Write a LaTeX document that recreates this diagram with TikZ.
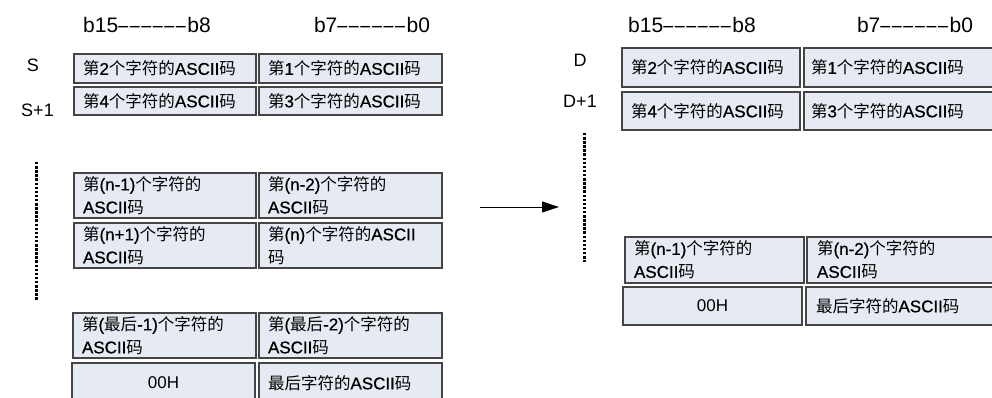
\documentclass[tikz,border=0pt]{standalone}
\usepackage{fontspec}
\usepackage{graphicx}
\setmainfont{Liberation Sans}
\newfontfamily\cjk{Noto Sans CJK SC}
\newfontfamily\semib{Liberation Sans}[FakeBold=0.7]
\usetikzlibrary{arrows.meta}
\newcommand\zh[1]{{\mdseries\cjk\fontsize{16.5}{23}\selectfont #1}}
\newcommand\hd{\scalebox{0.85}[1]{–}\kern1.6pt}
\definecolor{cellfill}{HTML}{E6EAF2}
\definecolor{celldraw}{HTML}{454545}
\tikzset{
  cell/.style={draw=celldraw, fill=cellfill, line width=1.1pt, inner xsep=9pt, inner ysep=0pt,
    outer sep=0pt, anchor=north west, align=left,
    font=\semib\fontsize{17}{23}\selectfont},
  plaincell/.style={cell, align=center, font=\fontsize{17}{23}\selectfont},
  hdr/.style={anchor=base, font=\fontsize{21}{21}\selectfont, inner sep=0pt},
  lbl/.style={anchor=base, font=\fontsize{18}{18}\selectfont, inner sep=0pt},
  dotline/.style={line width=3pt, dash pattern=on 2.5pt off 1.6pt},
}
\begin{document}
\begin{tikzpicture}[x=1pt,y=-1pt]
\useasboundingbox (0,0) rectangle (992,398);
\clip (0,0) rectangle (992,398);
% headers
\node[hdr] (h1) at (147,33) {b15\hd\hd\hd\hd\hd\hd b8};
\node[hdr] (h2) at (372,33) {b7\hd\hd\hd\hd\hd\hd b0};
\node[hdr] (h3) at (692,33) {b15\hd\hd\hd\hd\hd\hd b8};
\node[hdr] (h4) at (915,33) {b7\hd\hd\hd\hd\hd\hd b0};
% labels
\node[lbl] (ls) at (33,72) {S};
\node[lbl] (ls1) at (37.5,117) {S+1};
\node[lbl] (ld) at (580,67) {D};
\node[lbl] (ld1) at (580,108) {D+1};
% left cells
\node[cell, text width=164pt, minimum height=29pt] (s0h) at (74,54) {\zh{第}2\zh{个字符的}ASCII\zh{码}};
\node[cell, text width=165pt, minimum height=29pt] (s0l) at (259,54) {\zh{第}1\zh{个字符的}ASCII\zh{码}};
\node[cell, text width=164pt, minimum height=28pt] (s1h) at (74,87) {\zh{第}4\zh{个字符的}ASCII\zh{码}};
\node[cell, text width=165pt, minimum height=28pt] (s1l) at (259,87) {\zh{第}3\zh{个字符的}ASCII\zh{码}};
\node[cell, text width=164pt, minimum height=45pt] (snah) at (74,173) {\zh{第}(n-1)\zh{个字符的}\\ASCII\zh{码}};
\node[cell, text width=165pt, minimum height=45pt] (snal) at (259,173) {\zh{第}(n-2)\zh{个字符的}\\ASCII\zh{码}};
\node[cell, text width=164pt, minimum height=45pt] (snbh) at (74,223) {\zh{第}(n+1)\zh{个字符的}\\ASCII\zh{码}};
\node[cell, text width=165pt, minimum height=45pt] (snbl) at (259,223) {\zh{第}(n)\zh{个字符的}ASCII\\\zh{码}};
\node[cell, text width=165pt, minimum height=45pt] (slah) at (73,313) {\zh{第}(\zh{最后}-1)\zh{个字符的}\\ASCII\zh{码}};
\node[cell, text width=165pt, minimum height=45pt] (slal) at (259,313) {\zh{第}(\zh{最后}-2)\zh{个字符的}\\ASCII\zh{码}};
\node[plaincell, text width=165pt, minimum height=40pt] (szh) at (72,363) {00H};
\node[cell, text width=165pt, minimum height=40pt] (szl) at (259,363) {\zh{最后字符的}ASCII\zh{码}};
% right cells
\node[cell, text width=160pt, minimum height=39pt] (d0h) at (622,48) {\zh{第}2\zh{个字符的}ASCII\zh{码}};
\node[cell, text width=190pt, minimum height=39pt, inner xsep=7pt] (d0l) at (804,48) {\zh{第}1\zh{个字符的}ASCII\zh{码}};
\node[cell, text width=160pt, minimum height=38pt] (d1h) at (622,92) {\zh{第}4\zh{个字符的}ASCII\zh{码}};
\node[cell, text width=190pt, minimum height=38pt, inner xsep=7pt] (d1l) at (804,92) {\zh{第}3\zh{个字符的}ASCII\zh{码}};
\node[cell, text width=161pt, minimum height=46pt] (dnah) at (625,237) {\zh{第}(n-1)\zh{个字符的}\\ASCII\zh{码}};
\node[cell, text width=190pt, minimum height=46pt, inner xsep=10pt] (dnal) at (807,237) {\zh{第}(n-2)\zh{个字符的}\\ASCII\zh{码}};
\node[plaincell, text width=161pt, minimum height=38pt] (dzh) at (623,287) {00H};
\node[cell, text width=190pt, minimum height=38pt, inner xsep=10pt] (dzl) at (806,287) {\zh{最后字符的}ASCII\zh{码}};
% dotted lines
\coordinate (dla) at (36,162);
\coordinate (dlb) at (36,300);
\coordinate (dra) at (584,133);
\coordinate (drb) at (584,262);
\draw[dotline] (dla) -- (dlb);
\draw[dotline] (dra) -- (drb);
% arrow
\coordinate (arra) at (480,207);
\coordinate (arrb) at (559,207);
\draw[line width=1pt, -{Triangle[length=17pt,width=11pt]}] (arra) -- (arrb);
\end{tikzpicture}
\end{document}
